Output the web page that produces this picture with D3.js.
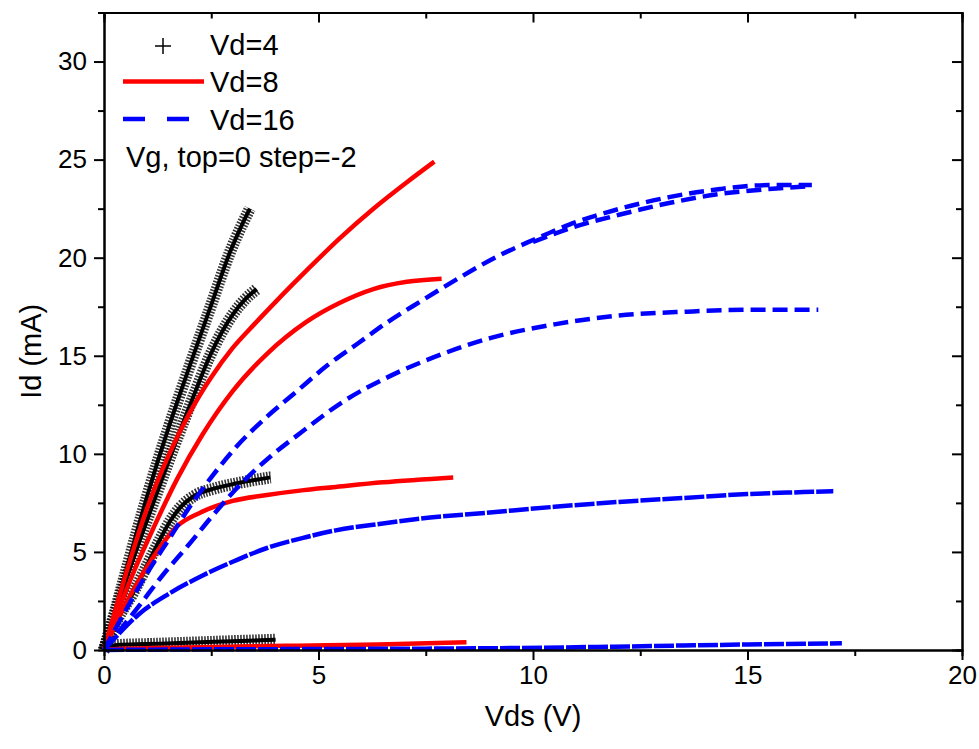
<!DOCTYPE html>
<html>
<head>
<meta charset="utf-8">
<script src="https://cdn.jsdelivr.net/npm/d3@7"></script>
<style>
  body { margin: 0; background: #fff; }
  svg { display: block; }
  text { font-family: "Liberation Sans", Arial, sans-serif; fill: #000; }
</style>
</head>
<body>
<div id="chart"></div>
<script>
// tick values
const xTicks = [0, 5, 10, 15, 20];
const xMinor = [2.5, 7.5, 12.5, 17.5];
const yTicks = [0, 5, 10, 15, 20, 25, 30];
const yMinor = [2.5, 7.5, 12.5, 17.5, 22.5, 27.5];

const legendLabels = ['Vd=4', 'Vd=8', 'Vd=16'];
const legendNote = 'Vg, top=0 step=-2';

// Vd=4 curves, [Vds, Id]
const vd4_vg0 = [[0,0],[0.25,1.9],[0.5,3.9],[0.75,5.9],[1.0,7.8],[1.25,9.6],[1.5,11.3],[2.0,14.5],[2.5,17.6],[2.94,20.3],[3.2,21.6],[3.4,22.5]];
const vd4_vg2 = [[0,0],[0.5,3.5],[1.0,6.6],[1.3,8.4],[1.62,10.3],[2.08,12.9],[2.47,15.0],[3.0,17.1],[3.3,17.9],[3.56,18.4]];
const vd4_vg4 = [[0,0],[0.3,1.5],[0.7,3.0],[1.0,4.3],[1.32,5.7],[1.55,6.6],[1.79,7.3],[2.1,7.85],[2.6,8.25],[3.1,8.5],[3.88,8.8]];
const vd4_vg6 = [[0,0],[0.1,0.2],[0.3,0.25],[1.0,0.3],[2.24,0.39],[3.0,0.45],[4.0,0.52]];

// Vd=8 curves
const vd8_vg0 = [[0,0],[0.5,3.8],[1.0,7.2],[1.5,9.9],[2.0,12.1],[2.5,13.9],[3.0,15.4],[3.5,16.6],[4.0,17.75],[4.7,19.3],[5.5,21.0],[6.28,22.5],[7.06,23.85],[7.7,24.9]];
const vd8_vg2 = [[0,0],[0.6,3.5],[1.17,6.3],[1.7,8.7],[2.3,11.0],[3.0,13.2],[3.8,15.1],[4.7,16.7],[5.5,17.7],[6.28,18.4],[7.06,18.77],[7.87,18.93]];
const vd8_vg4 = [[0,0],[0.47,2.2],[0.85,3.7],[1.23,5.0],[1.7,6.3],[2.24,7.0],[3.0,7.6],[3.8,7.9],[4.66,8.15],[5.34,8.3],[6.5,8.55],[8.14,8.8]];
const vd8_vg6 = [[0,0],[0.3,0.05],[2.5,0.15],[4.5,0.22],[6.4,0.28],[8.45,0.4]];

// Vd=16 curves (vg0 swept twice)
const vd16_vg0 = [[0,0],[0.5,2.0],[1.0,3.9],[1.5,5.6],[2.0,7.3],[2.5,8.8],[3.1,10.4],[3.75,11.8],[4.5,13.2],[5.2,14.5],[5.9,15.6],[6.6,16.7],[7.4,17.8],[8.3,19.0],[9.2,20.1],[10.0,20.9],[10.86,21.7],[12.03,22.5],[13.2,23.1],[14.36,23.5],[15.5,23.7],[16.5,23.7]];
const vd16_vg0_back = [[10.0,20.8],[10.86,21.5],[12.03,22.2],[13.2,22.8],[14.36,23.25],[15.5,23.5],[16.5,23.65]];
const vd16_vg2 = [[0,0],[0.8,2.2],[1.4,3.9],[1.95,5.3],[2.55,6.9],[3.25,8.6],[3.9,9.9],[4.6,11.1],[5.6,12.7],[6.7,14.0],[7.9,15.1],[9.0,15.9],[10.5,16.6],[12.0,17.05],[13.6,17.25],[15.1,17.35],[16.65,17.35]];
const vd16_vg4 = [[0,0],[0.25,0.6],[0.8,1.8],[1.5,2.85],[2.3,3.8],[3.0,4.5],[3.8,5.2],[4.7,5.75],[5.4,6.1],[6.5,6.45],[7.6,6.75],[8.8,6.97],[10.5,7.3],[12.0,7.55],[13.5,7.75],[15.0,7.95],[16.3,8.05],[17.0,8.1]];
const vd16_vg6 = [[0,0],[2,0.03],[5,0.05],[7.5,0.07],[9.5,0.1],[11.9,0.17],[13.5,0.23],[15.0,0.28],[17.2,0.34]];

const width = 979, height = 749;
const margin = { top: 12.5, right: 17, bottom: 99, left: 104 };

const svg = d3.select('#chart').append('svg')
    .attr('width', width)
    .attr('height', height);

const x = d3.scaleLinear().domain([0, 20]).range([margin.left, width - margin.right]);
const y = d3.scaleLinear().domain([0, 32.5]).range([height - margin.bottom, margin.top]);

const line = d3.line()
    .x(d => x(d[0]))
    .y(d => y(d[1]))
    .curve(d3.curveMonotoneX);

const plot = svg.append('g');

// black: dense "+" markers look like a hatched band
[vd4_vg0, vd4_vg2, vd4_vg4, vd4_vg6].forEach(s => {
    plot.append('path')
        .attr('d', line(s))
        .attr('fill', 'none')
        .attr('stroke', '#000')
        .attr('stroke-width', 12)
        .attr('stroke-dasharray', '1.6,1.4')
        .attr('opacity', 0.8);
    plot.append('path')
        .attr('d', line(s))
        .attr('fill', 'none')
        .attr('stroke', '#000')
        .attr('stroke-width', 4);
});

// red solid
[vd8_vg0, vd8_vg2, vd8_vg4, vd8_vg6].forEach(s => {
    plot.append('path')
        .attr('d', line(s))
        .attr('fill', 'none')
        .attr('stroke', '#ff0000')
        .attr('stroke-width', 4.5)
        .attr('stroke-linejoin', 'round');
});

// blue dashed
const blueSets = [
    [vd16_vg0, '15,7'],
    [vd16_vg0_back, '15,7'],
    [vd16_vg2, '15,7'],
    [vd16_vg4, '20,2'],
    [vd16_vg6, '20,2']
];
blueSets.forEach(([s, dash]) => {
    plot.append('path')
        .attr('d', line(s))
        .attr('fill', 'none')
        .attr('stroke', '#0000ff')
        .attr('stroke-width', 4.5)
        .attr('stroke-dasharray', dash);
});

// axes
const x0 = x(0), x1 = x(20), y0 = y(0), y1 = y(32.5);
const styleAxis = g => {
    g.select('.domain').attr('stroke-width', 2);
    g.selectAll('.tick line').attr('stroke-width', 2);
    g.selectAll('.tick text').style('font-size', '26px').style('font-family', '"Liberation Sans", Arial, sans-serif');
};

svg.append('g')
    .attr('transform', `translate(0,${y0})`)
    .call(d3.axisBottom(x).tickValues(xTicks).tickSize(10).tickSizeOuter(0).tickPadding(6))
    .call(styleAxis);
svg.append('g')
    .attr('transform', `translate(0,${y0})`)
    .call(d3.axisBottom(x).tickValues(xMinor).tickSize(6).tickFormat(''))
    .call(styleAxis);

svg.append('g')
    .attr('transform', `translate(${x0},0)`)
    .call(d3.axisLeft(y).tickValues(yTicks).tickSize(10).tickSizeOuter(0).tickPadding(7))
    .call(styleAxis);
svg.append('g')
    .attr('transform', `translate(${x0},0)`)
    .call(d3.axisLeft(y).tickValues(yMinor).tickSize(6).tickFormat(''))
    .call(styleAxis);

// top and right: inward ticks, no labels
svg.append('g')
    .attr('transform', `translate(0,${y1})`)
    .call(d3.axisBottom(x).tickValues(xTicks).tickSize(10).tickSizeOuter(0).tickFormat(''))
    .call(styleAxis);
svg.append('g')
    .attr('transform', `translate(0,${y1})`)
    .call(d3.axisBottom(x).tickValues(xMinor).tickSize(6).tickFormat(''))
    .call(styleAxis);
svg.append('g')
    .attr('transform', `translate(${x1},0)`)
    .call(d3.axisLeft(y).tickValues(yTicks).tickSize(10).tickSizeOuter(0).tickFormat(''))
    .call(styleAxis);
svg.append('g')
    .attr('transform', `translate(${x1},0)`)
    .call(d3.axisLeft(y).tickValues(yMinor).tickSize(6).tickFormat(''))
    .call(styleAxis);

// axis titles
svg.append('text')
    .attr('x', (x0 + x1) / 2)
    .attr('y', 726)
    .attr('text-anchor', 'middle')
    .style('font-size', '29px')
    .text('Vds (V)');

svg.append('text')
    .attr('transform', `translate(41,${(y0 + y1) / 2 + 20}) rotate(-90)`)
    .attr('text-anchor', 'middle')
    .style('font-size', '29px')
    .text('Id (mA)');

// legend
const leg = svg.append('g');
leg.append('line')
    .attr('x1', 155).attr('x2', 171).attr('y1', 46).attr('y2', 46)
    .attr('stroke', '#000').attr('stroke-width', 1.5);
leg.append('line')
    .attr('x1', 163).attr('x2', 163).attr('y1', 38).attr('y2', 54)
    .attr('stroke', '#000').attr('stroke-width', 1.5);
leg.append('line')
    .attr('x1', 123).attr('x2', 204).attr('y1', 81.5).attr('y2', 81.5)
    .attr('stroke', '#ff0000').attr('stroke-width', 4.5);
leg.append('line')
    .attr('x1', 123).attr('x2', 190).attr('y1', 119).attr('y2', 119)
    .attr('stroke', '#0000ff').attr('stroke-width', 4.5)
    .attr('stroke-dasharray', '22,22');

const legendY = [55, 92, 129.5];
legendLabels.forEach((t, i) => {
    leg.append('text')
        .attr('x', 210)
        .attr('y', legendY[i])
        .style('font-size', '29px')
        .text(t);
});
leg.append('text')
    .attr('x', 126)
    .attr('y', 167)
    .style('font-size', '29px')
    .text(legendNote);
</script>
</body>
</html>
